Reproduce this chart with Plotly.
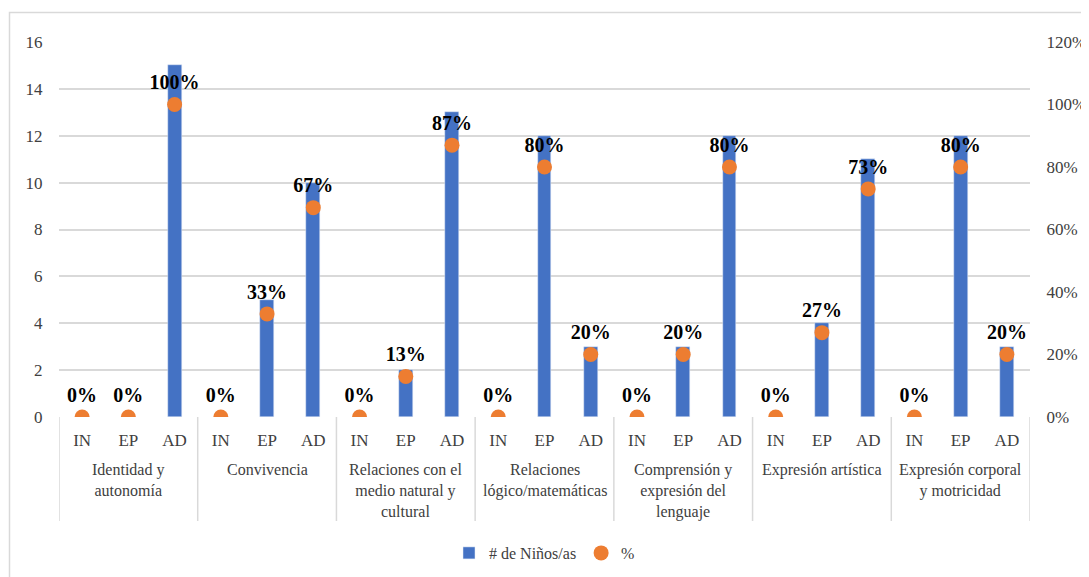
import plotly.graph_objects as go

groups = ["Identidad y<br>autonomía", "Convivencia", "Relaciones con el<br>medio natural y<br>cultural",
          "Relaciones<br>lógico/matemáticas", "Comprensión y<br>expresión del<br>lenguaje",
          "Expresión artística", "Expresión corporal<br>y motricidad"]
levels = ["IN", "EP", "AD"]
ninos = [0, 0, 15, 0, 5, 10, 0, 2, 13, 0, 12, 3, 0, 3, 12, 0, 4, 11, 0, 12, 3]
pct = [0, 0, 1.00, 0, 0.33, 0.67, 0, 0.13, 0.87, 0, 0.80, 0.20, 0, 0.20, 0.80, 0, 0.27, 0.73, 0, 0.80, 0.20]
y_ticks = [0, 2, 4, 6, 8, 10, 12, 14, 16]
y2_ticks = [0, 0.2, 0.4, 0.6, 0.8, 1.0, 1.2]

FONT = "'Times New Roman', 'Liberation Serif', 'DejaVu Serif', serif"
GRID = "#d9d9d9"
TXT = "#404040"
n = len(ninos)
xs = list(range(n))
ticktext = [levels[i % 3] for i in xs]

# figure is offset by the page's 8px body margin
W, H = 1081, 569
L, T = 51, 34
PW, PH = 971, 375
R = W - L - PW
B = H - T - PH

fig = go.Figure()
fig.add_trace(go.Bar(x=xs, y=ninos, name="# de Niños/as", marker_color="#4472C4",
                     width=0.3, yaxis="y"))
fig.add_trace(go.Scatter(x=xs, y=pct, name="%", mode="markers+text", yaxis="y2",
                         marker=dict(color="#ED7D31", size=15),
                         text=[f"<b>{round(v*100)}%</b>" for v in pct],
                         textposition="top center",
                         textfont=dict(family=FONT, size=20, color="black")))

shapes = []
for k in range(len(groups) + 1):
    xv = k * 3 - 0.5
    shapes.append(dict(type="line", xref="x", yref="paper", x0=xv, x1=xv, y0=0, y1=-104/PH,
                       line=dict(color=GRID, width=1.5), layer="below"))
# chart border (page x=9, y=12 -> figure x=1, y=4)
shapes.append(dict(type="rect", xref="paper", yref="paper", x0=(1.5-L)/PW, x1=(1100-L)/PW,
                   y0=-(B+40)/PH, y1=1+(T-4.5)/PH, line=dict(color=GRID, width=1.5)))

annotations = []
for i, g in enumerate(groups):
    annotations.append(dict(x=i*3+1, xref="x", y=0, yref="paper", yanchor="top", yshift=-42,
                            text=g, showarrow=False, align="center",
                            font=dict(family=FONT, size=16, color=TXT)))

fig.update_layout(
    width=W, height=H,
    margin=dict(l=L, r=R, t=T, b=B, autoexpand=False),
    paper_bgcolor="white", plot_bgcolor="white",
    font=dict(family=FONT, size=16, color=TXT),
    bargap=0,
    showlegend=True,
    legend=dict(orientation="h", x=0.5, xanchor="center", y=-136/PH, yanchor="middle",
                font=dict(family=FONT, size=16, color=TXT), itemwidth=30),
    xaxis=dict(range=[-0.5, n - 0.5], tickmode="array", tickvals=xs, ticktext=ticktext,
               ticks="outside", ticklen=8, tickcolor="rgba(0,0,0,0)", showgrid=False,
               zeroline=False, showline=False, tickfont=dict(family=FONT, size=17, color=TXT)),
    yaxis=dict(range=[0, 16], tickmode="array", tickvals=y_ticks, showgrid=True, gridcolor=GRID,
               gridwidth=1.5, zeroline=False, showline=False, ticks="outside", ticklen=12,
               tickcolor="rgba(0,0,0,0)", tickfont=dict(family=FONT, size=17, color=TXT)),
    yaxis2=dict(range=[0, 1.2], tickmode="array", tickvals=y2_ticks, tickformat=".0%",
                overlaying="y", side="right", showgrid=False, zeroline=False, showline=False,
                ticks="outside", ticklen=12, tickcolor="rgba(0,0,0,0)",
                tickfont=dict(family=FONT, size=17, color=TXT)),
    shapes=shapes, annotations=annotations,
)
fig.write_html("out.html")
